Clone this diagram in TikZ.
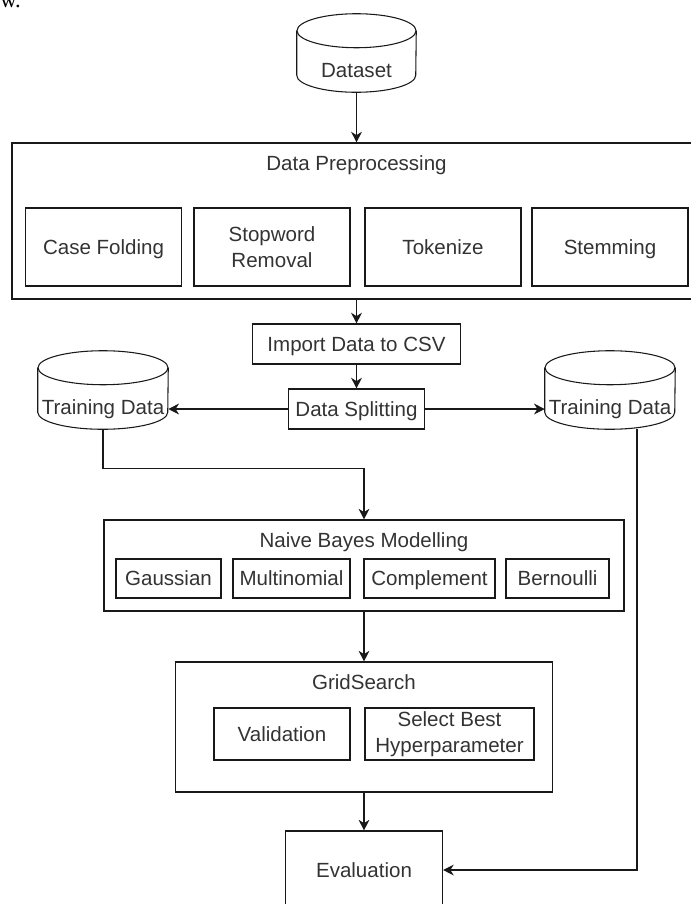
\documentclass[tikz,border=0pt]{standalone}
\usepackage{fontspec}
\setmainfont{Liberation Sans}
\newfontfamily\bodyserif{Liberation Serif}
\usetikzlibrary{arrows.meta,positioning}

\begin{document}
\begin{tikzpicture}[x=0.75pt, y=-0.75pt,
    font=\fontsize{15.4}{19.5}\selectfont, text=black!80,
    line/.style={draw=black!90, line width=0.8pt},
    every edge/.style={line},
    box/.style={line, rectangle, inner sep=0pt, align=center, text height=13.9pt, text depth=3.3pt},
    twoline/.style={text height=, text depth=},
    stage/.style={box, minimum width=117pt, minimum height=58.5pt},
    model/.style={box, minimum height=29.25pt},
    title/.style={text height=13.9pt, text depth=3.3pt},
    store/.style={inner sep=0pt, minimum width=#1, minimum height=33pt, align=center,
      text height=13.9pt, text depth=3.3pt,
      append after command={\pgfextra{
        \draw[line] ([yshift=12.75pt]\tikzlastnode.north west) -- ([yshift=12.75pt]\tikzlastnode.south west)
          arc[start angle=180, end angle=360, x radius=#1/2, y radius=12.75pt]
          -- ([yshift=12.75pt]\tikzlastnode.north east);
        \draw[line] ([yshift=12.75pt]\tikzlastnode.north) ellipse[x radius=#1/2, y radius=12.75pt];
      }}},
    >={Stealth[length=8pt, width=8pt, inset=2.5pt]}]
  \useasboundingbox (0,0) rectangle (691,904);

  % end of the line above the figure
  \node[font=\bodyserif\fontsize{17}{20}\selectfont, text=black, anchor=base west, inner sep=0pt] (tail) at (0,7) {w.};

  \node[store=89.25pt] (ds) at (356.5,70) {Dataset};

  % preprocessing block
  \node[box, minimum width=516.75pt, minimum height=117pt] (dp) at (356.5,221) {};
  \node[title] (dptitle) at (356.5,163) {Data Preprocessing};
  \node[stage] (fold) at (103.5,247) {Case Folding};
  \node[stage, twoline] (stop) at (272,247) {Stopword\\Removal};
  \node[stage] (token) at (443,247) {Tokenize};
  \node[stage] (stem) at (610,247) {Stemming};

  \node[box, minimum width=156pt, minimum height=30pt] (csv) at (356.5,344) {Import Data to CSV};
  \node[box, minimum width=102pt, minimum height=30pt] (split) at (356.5,409) {Data Splitting};
  \node[store=97.5pt] (trainL) at (103,407) {Training Data};
  \node[store=97.5pt] (trainR) at (610,407) {Training Data};

  % models
  \node[box, minimum width=390pt, minimum height=68.25pt] (nb) at (364,565.5) {};
  \node[title] (nbtitle) at (364,540) {Naive Bayes Modelling};
  \node[model, minimum width=78.75pt] (gauss) at (168.5,578.5) {Gaussian};
  \node[model, minimum width=87.75pt] (multi) at (291.5,578.5) {Multinomial};
  \node[model, minimum width=98.25pt] (compl) at (429.5,578.5) {Complement};
  \node[model, minimum width=77.25pt] (bern) at (557.5,578.5) {Bernoulli};

  % tuning
  \node[box, minimum width=282.75pt, minimum height=97.5pt] (gs) at (364,727) {};
  \node[title] (gstitle) at (364,682) {GridSearch};
  \node[box, minimum width=102pt, minimum height=39pt] (valid) at (282,734) {Validation};
  \node[box, twoline, minimum width=126.75pt, minimum height=39pt] (best) at (449.5,734) {Select Best\\Hyperparameter};

  \node[box, minimum width=117.75pt, minimum height=58.5pt] (eval) at (364,870) {Evaluation};

  \path[->]
    (ds) edge (dp)
    (dp) edge (csv)
    (csv) edge (split)
    (split.west) edge (split.west -| trainL.east)
    (split.east) edge (split.east -| trainR.west)
    (nb) edge (gs)
    (gs) edge (eval)
    ;
  \draw[->, line] (trainL.south) -- ++(0,39) -| (nb.north);
  \draw[->, line] ([xshift=20.25pt]trainR.south) |- (eval.east);
\end{tikzpicture}
\end{document}
